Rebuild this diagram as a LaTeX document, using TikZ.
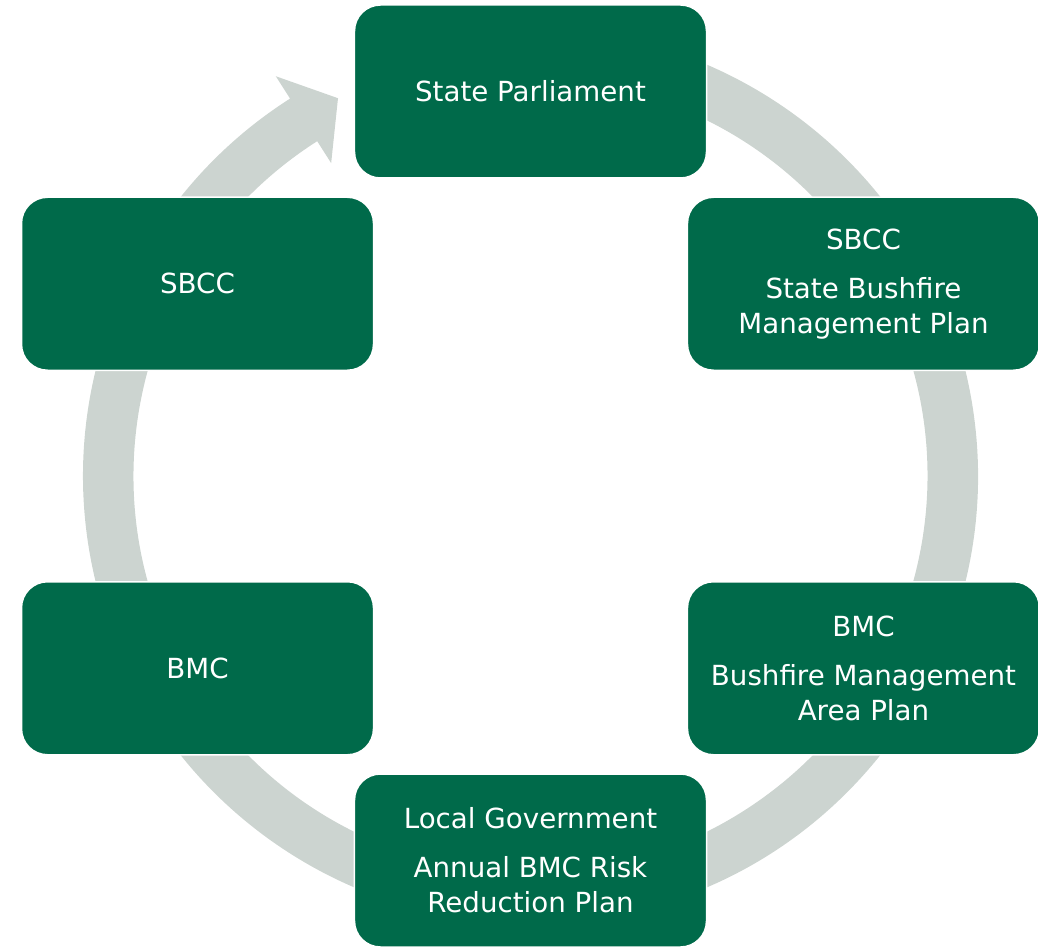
\documentclass[tikz,border=0pt]{standalone}
\usepackage{fontspec}
\setmainfont{DejaVu Sans}
\definecolor{boxgreen}{RGB}{0,106,74}
\definecolor{ringgray}{RGB}{204,212,208}

\begin{document}
\begin{tikzpicture}[x=1pt,y=1pt,
		stage/.style={rectangle, rounded corners=26pt, fill=boxgreen, draw=white, line width=1.5pt,
			minimum width=352pt, minimum height=173pt, inner sep=0pt,
			align=center, text=white, font=\fontsize{27.7}{35}\selectfont}]
		\useasboundingbox (-530.5,-472) rectangle (507.5,476);
		
		\fill[ringgray] (100:447.5) arc[start angle=100, end angle=-237.5, radius=447.5pt]
			-- (122.5:474) -- (117:424) -- (122.5:371) -- (122.5:397)
			arc[start angle=-237.5, end angle=100, radius=397pt] -- cycle;
		
		\node[stage] (parliament) at (90:384.5) {State Parliament};
		\node[stage] (sbccplan) at (30:384.5) {SBCC\\[14pt]State Bushfire\\Management Plan};
		\node[stage] (bmcplan) at (-30:384.5) {BMC\\[14pt]Bushfire Management\\Area Plan};
		\node[stage] (localgov) at (-90:384.5) {Local Government\\[14pt]Annual BMC Risk\\Reduction Plan};
		\node[stage] (bmc) at (210:384.5) {BMC};
		\node[stage] (sbcc) at (150:384.5) {SBCC};
	\end{tikzpicture}
\end{document}
